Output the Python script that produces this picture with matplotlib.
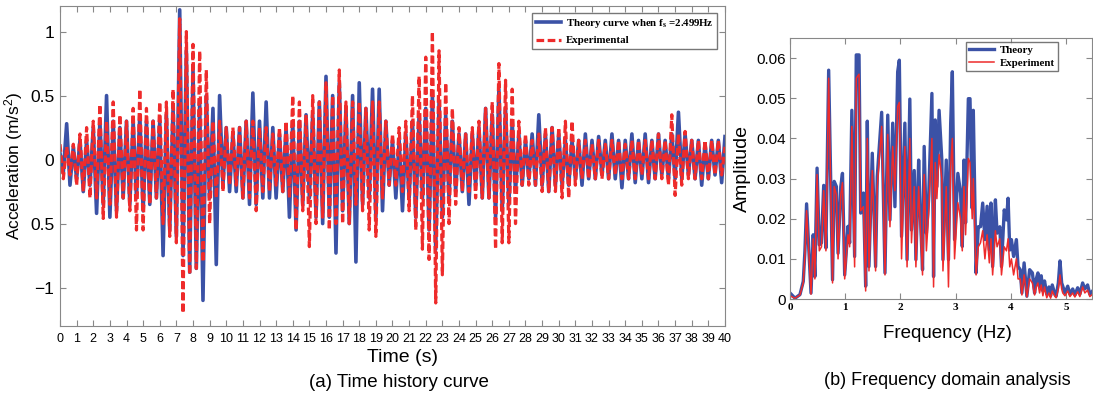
import numpy as np
import matplotlib
matplotlib.use('Agg')
import matplotlib.pyplot as plt

plt.rcParams['font.family'] = ['Liberation Sans', 'DejaVu Sans']
plt.rcParams['mathtext.fontset'] = 'custom'
plt.rcParams['mathtext.rm'] = 'Liberation Serif:bold'
plt.rcParams['mathtext.it'] = 'Liberation Serif:bold'
plt.rcParams['mathtext.sf'] = 'Liberation Sans'

# time history, one peak every 0.2 s (rows = 1 s)
theory_acc = [
    0.05, -0.1, 0.28, -0.2, 0.1,
    -0.15, 0.15, -0.25, 0.15, -0.2,
    0.25, -0.42, 0.3, -0.35, 0.5,
    -0.45, 0.3, -0.4, 0.25, -0.3,
    0.3, -0.35, 0.3, -0.3, 0.35,
    -0.4, 0.3, -0.35, 0.3, -0.3,
    0.3, -0.75, 0.35, -0.55, 0.4,
    -0.6, 1.17, -0.75, 0.85, -0.88,
    0.7, -0.85, 0.45, -1.1, 0.5,
    -0.3, 0.4, -0.82, 0.5, -0.2,
    0.25, -0.25, 0.2, -0.25, 0.25,
    -0.3, 0.3, -0.35, 0.52, -0.35,
    0.3, -0.3, 0.45, -0.3, 0.25,
    -0.3, 0.2, -0.25, 0.25, -0.45,
    0.3, -0.55, 0.3, -0.35, 0.35,
    -0.3, 0.35, -0.45, 0.45, -0.5,
    0.65, -0.45, 0.5, -0.73, 0.6,
    -0.4, 0.4, -0.5, 0.5, -0.8,
    0.6, -0.35, 0.4, -0.3, 0.55,
    -0.45, 0.55, -0.4, 0.3, -0.2,
    0.15, -0.3, 0.15, -0.4, 0.2,
    -0.3, 0.3, -0.45, 0.35, -0.3,
    0.4, -0.55, 0.5, -0.7, 0.45,
    -0.45, 0.35, -0.3, 0.3, -0.25,
    0.2, -0.25, 0.2, -0.35, 0.2,
    -0.2, 0.25, -0.3, 0.4, -0.3,
    0.35, -0.45, 0.55, -0.4, 0.4,
    -0.35, 0.3, -0.25, 0.2, -0.2,
    0.15, -0.15, 0.2, -0.2, 0.35,
    -0.2, 0.2, -0.25, 0.25, -0.2,
    0.2, -0.2, 0.15, -0.2, 0.15,
    -0.15, 0.15, -0.2, 0.2, -0.15,
    0.15, -0.15, 0.18, -0.12, 0.15,
    -0.15, 0.2, -0.15, 0.15, -0.22,
    0.15, -0.15, 0.2, -0.18, 0.15,
    -0.15, 0.2, -0.18, 0.15, -0.15,
    0.2, -0.12, 0.15, -0.15, 0.2,
    -0.15, 0.37, -0.15, 0.2, -0.12,
    0.15, -0.15, 0.15, -0.2, 0.12,
    -0.15, 0.15, -0.12, 0.15, -0.18,
    0.18,
]
exp_acc = [
    0.12, -0.15, 0.1, -0.12, 0.12,
    -0.2, 0.2, -0.25, 0.25, -0.3,
    0.3, -0.3, 0.43, -0.46, 0.3,
    -0.35, 0.45, -0.45, 0.35, -0.3,
    0.3, -0.4, 0.4, -0.55, 0.55,
    -0.55, 0.4, -0.35, 0.3, -0.3,
    0.45, -0.5, 0.45, -0.6, 0.55,
    -0.65, 1.1, -1.2, 1.0, -0.9,
    0.9, -0.85, 0.85, -0.8, 0.7,
    -0.5, 0.3, -0.3, 0.3, -0.25,
    0.25, -0.2, 0.25, -0.2, 0.25,
    -0.3, 0.3, -0.3, 0.3, -0.4,
    0.25, -0.25, 0.25, -0.25, 0.2,
    -0.2, 0.25, -0.25, 0.3, -0.3,
    0.5, -0.55, 0.45, -0.4, 0.35,
    -0.68, 0.5, -0.5, 0.45, -0.45,
    0.6, -0.55, 0.5, -0.5, 0.7,
    -0.5, 0.45, -0.5, 0.45, -0.35,
    0.45, -0.4, 0.4, -0.55, 0.45,
    -0.6, 0.45, -0.3, 0.3, -0.2,
    0.2, -0.2, 0.25, -0.25, 0.3,
    -0.4, 0.5, -0.55, 0.65, -0.7,
    0.8, -0.78, 1.0, -1.12, 0.85,
    -0.9, 0.6, -0.5, 0.4, -0.35,
    0.25, -0.25, 0.2, -0.25, 0.25,
    -0.3, 0.3, -0.3, 0.4, -0.3,
    0.45, -0.7, 0.75, -0.65, 0.62,
    -0.65, 0.55, -0.5, 0.3, -0.2,
    0.2, -0.2, 0.15, -0.2, 0.2,
    -0.25, 0.25, -0.25, 0.25, -0.25,
    0.25, -0.3, 0.3, -0.3, 0.3,
    -0.2, 0.15, -0.15, 0.15, -0.15,
    0.12, -0.15, 0.15, -0.15, 0.12,
    -0.15, 0.15, -0.12, 0.15, -0.15,
    0.12, -0.15, 0.15, -0.15, 0.15,
    -0.12, 0.15, -0.15, 0.15, -0.15,
    0.2, -0.15, 0.15, -0.2, 0.35,
    -0.28, 0.2, -0.2, 0.22, -0.15,
    0.15, -0.15, 0.15, -0.15, 0.15,
    -0.15, 0.15, -0.12, 0.15, -0.12,
    0.1,
]

# spectrum
freq = [0.00, 0.09, 0.18, 0.24, 0.27, 0.30, 0.38, 0.42, 0.45, 0.49, 0.53, 0.57, 0.61, 0.65, 0.70,
        0.77, 0.80, 0.84, 0.87, 0.92, 0.95, 0.99, 1.05, 1.08, 1.12, 1.17, 1.20, 1.25, 1.28, 1.33,
        1.37, 1.40, 1.43, 1.49, 1.55, 1.58, 1.66, 1.72, 1.77, 1.81, 1.86, 1.90, 1.95, 1.98, 2.02,
        2.08, 2.12, 2.17, 2.20, 2.25, 2.28, 2.33, 2.36, 2.40, 2.43, 2.47, 2.51, 2.57, 2.60, 2.63,
        2.66, 2.70, 2.75, 2.77, 2.83, 2.87, 2.91, 2.94, 2.98, 3.04, 3.09, 3.12, 3.15, 3.18, 3.23,
        3.26, 3.30, 3.32, 3.37, 3.41, 3.45, 3.49, 3.53, 3.57, 3.61, 3.64, 3.67, 3.72, 3.75, 3.80,
        3.83, 3.88, 3.92, 3.95, 3.98, 4.01, 4.05, 4.10, 4.13, 4.17, 4.20, 4.24, 4.29, 4.34, 4.39,
        4.43, 4.46, 4.49, 4.52, 4.55, 4.58, 4.61, 4.65, 4.69, 4.72, 4.75, 4.79, 4.82, 4.86, 4.89,
        4.92, 4.94, 4.98, 5.03, 5.07, 5.12, 5.16, 5.21, 5.25, 5.30, 5.34, 5.39, 5.43, 5.48]
amp_theory = [0.0015, 0.0002, 0.0011, 0.0044, 0.012, 0.0237, 0.0015, 0.016, 0.0056, 0.0326, 0.0135, 0.014, 0.0283, 0.0127, 0.057,
              0.0048, 0.0293, 0.028, 0.0114, 0.028, 0.0313, 0.006, 0.0181, 0.014, 0.047, 0.0106, 0.0608, 0.0608, 0.0214, 0.0264,
              0.0032, 0.0443, 0.0081, 0.0363, 0.0081, 0.0305, 0.0465, 0.0065, 0.0458, 0.0197, 0.0438, 0.023, 0.0566, 0.0595, 0.0156,
              0.0438, 0.0098, 0.0498, 0.0172, 0.032, 0.0098, 0.0346, 0.0214, 0.0073, 0.038, 0.0164, 0.0247, 0.0512, 0.0056, 0.0446,
              0.028, 0.047, 0.0346, 0.0098, 0.0346, 0.0098, 0.0438, 0.0566, 0.0148, 0.0313, 0.0264, 0.0131, 0.0346, 0.019, 0.0499,
              0.0499, 0.0226, 0.047, 0.0065, 0.018, 0.018, 0.0239, 0.0148, 0.0231, 0.0122, 0.0239, 0.0081, 0.0247, 0.0164, 0.018,
              0.0081, 0.0222, 0.0197, 0.0251, 0.0122, 0.0148, 0.0106, 0.0148, 0.0081, 0.0073, 0.0015, 0.009, 0.0007, 0.0073, 0.0065,
              0.0015, 0.005, 0.0065, 0.003, 0.0058, 0.002, 0.0045, 0.0012, 0.003, 0.0008, 0.0035, 0.0015, 0.0007, 0.004, 0.0095,
              0.004, 0.0032, 0.0015, 0.0032, 0.0012, 0.0025, 0.001, 0.0028, 0.0012, 0.004, 0.0025, 0.0035, 0.0012, 0.002]
amp_exp = [0.0008, 0.0002, 0.001, 0.004, 0.011, 0.022, 0.0012, 0.015, 0.005, 0.031, 0.012, 0.013, 0.027, 0.012, 0.055,
           0.004, 0.028, 0.026, 0.01, 0.026, 0.029, 0.005, 0.016, 0.013, 0.043, 0.008, 0.055, 0.056, 0.022, 0.023,
           0.002, 0.04, 0.007, 0.032, 0.007, 0.028, 0.043, 0.006, 0.041, 0.018, 0.038, 0.027, 0.048, 0.049, 0.01,
           0.038, 0.008, 0.04, 0.014, 0.028, 0.008, 0.028, 0.018, 0.006, 0.031, 0.012, 0.021, 0.04, 0.003, 0.034,
           0.025, 0.036, 0.03, 0.007, 0.028, 0.003, 0.033, 0.04, 0.01, 0.024, 0.02, 0.012, 0.028, 0.016, 0.035,
           0.034, 0.02, 0.03, 0.006, 0.013, 0.014, 0.017, 0.01, 0.016, 0.009, 0.015, 0.006, 0.017, 0.013, 0.015,
           0.006, 0.013, 0.012, 0.015, 0.008, 0.01, 0.006, 0.01, 0.005, 0.005, 0.001, 0.006, 0.0005, 0.005, 0.004,
           0.001, 0.003, 0.004, 0.0015, 0.0035, 0.0008, 0.003, 0.0003, 0.0015, 0.0002, 0.002, 0.0008, 0.0003, 0.0025, 0.006,
           0.0025, 0.0015, 0.0008, 0.002, 0.0006, 0.0015, 0.0005, 0.0018, 0.0006, 0.003, 0.0015, 0.0022, 0.0006, 0.0012]

blue = '#3b52a6'
red = '#ee2b2b'
legend_font = {'family': 'Liberation Serif', 'weight': 'bold', 'size': 7.8}

fig = plt.figure(figsize=(10.93, 3.99), dpi=100)

# (a) time history
ax1 = fig.add_axes([0.0549, 0.183, 0.6084, 0.802])
t = np.linspace(0, 40, len(theory_acc))
ax1.plot(t, theory_acc, color=blue, lw=2.6, label=r'Theory curve when f$_{\rm s}$ =2.499Hz')
ax1.plot(t, exp_acc, color=red, lw=2.3, ls=(0, (2.4, 1.1)), label='Experimental')
ax1.set_xlim(0, 40)
ax1.set_ylim(-1.3, 1.2)
ax1.set_xticks(range(0, 41))
ax1.set_xticklabels([str(i) for i in range(0, 41)], fontsize=9)
ax1.set_yticks([-1, -0.5, 0, 0.5, 1])
ax1.set_yticklabels(['\u22121', '0.5', '0', '0.5', '1'], fontsize=12.5)
ax1.tick_params(direction='in', top=True, right=True, length=4, color='#888888', pad=5)
ax1.tick_params(axis='y', pad=4)
ax1.set_ylabel(r'Acceleration (m/s$\mathsf{^{2}}$)', fontsize=12.5)
ax1.yaxis.set_label_coords(-0.052, 0.5)
ax1.set_xlabel('Time (s)', fontsize=14)
ax1.xaxis.set_label_coords(0.515, -0.072)
for s in ax1.spines.values():
    s.set_color('#888888')
leg1 = ax1.legend(loc='upper right', prop=legend_font, fancybox=False, edgecolor='#555555',
                  handlelength=2.3, borderpad=0.35, labelspacing=0.55, handletextpad=0.5,
                  borderaxespad=0, bbox_to_anchor=(0.988, 0.978))
leg1.get_frame().set_linewidth(1.0)
fig.text(0.365, 0.03, '(a) Time history curve', ha='center', fontsize=13.5)

# (b) spectrum
ax2 = fig.add_axes([0.7228, 0.2506, 0.2763, 0.654])
ax2.plot(freq, amp_theory, color=blue, lw=2.4, label='Theory')
ax2.plot(freq, amp_exp, color=red, lw=1.1, label='Experiment')
ax2.set_xlim(0, 5.47)
ax2.set_ylim(0, 0.065)
ax2.set_xticks([0, 1, 2, 3, 4, 5])
ax2.set_xticklabels(['0', '1', '2', '3', '4', '5'], family='Liberation Serif', weight='bold', fontsize=8)
ax2.set_yticks([0, 0.01, 0.02, 0.03, 0.04, 0.05, 0.06])
ax2.set_yticklabels(['0', '0.01', '0.02', '0.03', '0.04', '0.05', '0.06'], fontsize=11)
ax2.tick_params(direction='in', top=True, right=True, length=4, color='#888888', pad=3)
ax2.set_xlabel('Frequency (Hz)', fontsize=13.5)
ax2.xaxis.set_label_coords(0.52, -0.1)
ax2.set_ylabel('Amplitude', fontsize=14, labelpad=4)
for s in ax2.spines.values():
    s.set_color('#888888')
leg2 = ax2.legend(loc='upper right', prop=legend_font, fancybox=False, edgecolor='#555555',
                  handlelength=2.3, borderpad=0.3, labelspacing=0.3, handletextpad=0.5,
                  borderaxespad=0, bbox_to_anchor=(0.887, 0.985))
leg2.get_frame().set_linewidth(1.0)
fig.text(0.8665, 0.035, '(b) Frequency domain analysis', ha='center', fontsize=13)

fig.savefig('out.png', dpi=100)
